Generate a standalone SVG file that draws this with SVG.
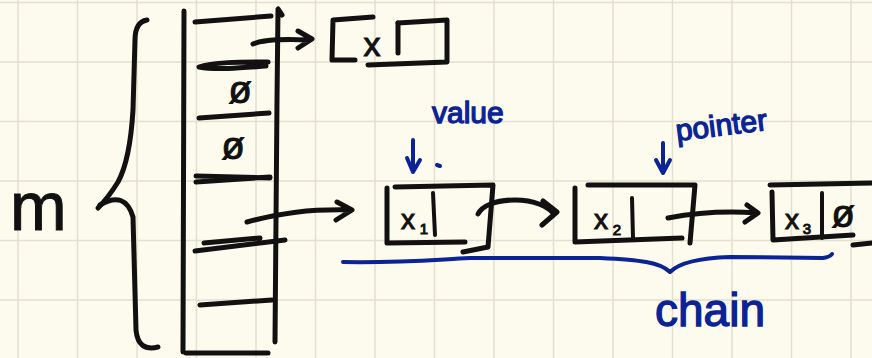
<svg xmlns="http://www.w3.org/2000/svg" width="872" height="358" viewBox="0 0 872 358">
<style>
.ink{fill:none;stroke:#111;stroke-width:5;stroke-linecap:round;stroke-linejoin:round}
.thin{stroke-width:4}
.blue{fill:none;stroke:#0b2394;stroke-width:4;stroke-linecap:round;stroke-linejoin:round}
.grid{stroke:#e4e0cf;stroke-width:1.5}
.t{font-family:"Liberation Sans",Arial,sans-serif;fill:#111;stroke:#111;stroke-width:1}
.bt{font-family:"Liberation Sans",Arial,sans-serif;fill:#0b2394;stroke:#0b2394;stroke-width:1.3}
</style>
<rect width="872" height="358" fill="#fdfbee"/>
<g id="grid">
<path class="grid" d="M18,0V358M77.5,0V358M137,0V358M196.5,0V358M256,0V358M315.5,0V358M375,0V358M434.5,0V358M494,0V358M553.5,0V358M613,0V358M672.5,0V358M732,0V358M791.5,0V358M851,0V358M0,2.5H872M0,62H872M0,121.5H872M0,181H872M0,240.5H872M0,300H872"/>
</g>
<g id="label-m">
<text class="t" x="10" y="230" font-size="68">m</text>
</g>
<g id="brace-m">
<path class="ink" d="M147,20 Q135,22 135,40 L133,110 Q130,160 118,182 Q108,198 98,208"/>
<path class="ink" d="M100,205 Q125,190 133,217 L136,330 Q138,352 158,347"/>
</g>
<g id="hash-table">
<path class="ink" d="M184,11 L183,352"/>
<path class="ink" d="M282,15 L278,9 L277,100 L275,342"/>
<path class="ink" d="M195,22 L271,16"/>
<path class="ink" d="M268,62 C240,62 212,62 199,67 C215,70 240,68 266,66"/>
<path class="ink" d="M199,118 L269,113"/>
<path class="ink" d="M196,176 L270,178 M196,182 L270,177"/>
<path class="ink" d="M195,251 L285,240 M204,243 L260,238"/>
<path class="ink" d="M200,305 L272,300"/>
<path class="ink" d="M186,353 L268,353"/>
<text class="t" x="240" y="103" font-size="38" text-anchor="middle">ø</text>
<text class="t" x="233" y="159" font-size="38" text-anchor="middle">ø</text>
</g>
<g id="node-top">
<path class="ink" d="M373,17 L333,20 L332,60 L355,60"/>
<path class="ink" d="M398,23 L398,53"/>
<path class="ink" d="M398,23 L447,20 L447,62 L368,65"/>
<text class="t" x="372" y="56" font-size="34" text-anchor="middle">x</text>
</g>
<g id="node-x1">
<path class="ink" d="M395,187 L493,185 L488,247 L463,252"/>
<path class="ink" d="M387,188 L387,243 L465,242"/>
<path class="ink thin" d="M433,193 L435,235"/>
<text class="t" x="408" y="229" font-size="28" text-anchor="middle">x</text>
<text class="t" x="424" y="234" font-size="15" text-anchor="middle">1</text>
</g>
<g id="node-x2">
<path class="ink" d="M588,185 L695,185 L690,243"/>
<path class="ink" d="M575,188 L575,242 L682,238"/>
<path class="ink thin" d="M632,198 L633,238"/>
<text class="t" x="601" y="229" font-size="28" text-anchor="middle">x</text>
<text class="t" x="617" y="235" font-size="15" text-anchor="middle">2</text>
</g>
<g id="node-x3">
<path class="ink" d="M770,185 L872,183"/>
<path class="ink" d="M772,192 L773,240 L853,235"/>
<path class="ink" d="M853,245 L872,243"/>
<path class="ink thin" d="M822,193 L822,238"/>
<text class="t" x="792" y="229" font-size="28" text-anchor="middle">x</text>
<text class="t" x="807" y="234" font-size="15" text-anchor="middle">3</text>
<text class="t" x="843" y="227" font-size="38" text-anchor="middle">ø</text>
</g>
<g id="annotations">
<text class="bt" x="432" y="123" font-size="30">value</text>
<path class="blue" d="M413,140 L413,172 M407,158 L413,172 L420,160"/>
<path class="blue" d="M437,165 L440,166"/>
<text class="bt" x="677" y="141" font-size="30" transform="rotate(-7 677 141)">pointer</text>
<path class="blue" d="M663,143 L663,173 M656,160 L663,173 L670,160"/>
<path class="blue" d="M343,262 C400,263 430,260 470,258 L600,258 C640,260 660,262 670,272 C680,262 700,258 730,257 L823,258 Q830,257 832,254"/>
<text class="bt" x="655" y="326" font-size="46">chain</text>
</g>
<g id="connectors">
<path class="ink" d="M253,44 C265,39 285,39 310,40 M298,31 L312,39 L298,48"/>
<path class="ink" d="M247,222 C280,213 310,209 351,210 M337,202 L352,210 L336,220"/>
<path class="ink" d="M478,214 C482,206 495,200 515,200 C535,200 548,207 553,213 M543,201 L557,212 L542,225"/>
<path class="ink" d="M668,218 C700,212 730,211 757,213 M747,205 L758,213 L745,222"/>
</g>
</svg>
